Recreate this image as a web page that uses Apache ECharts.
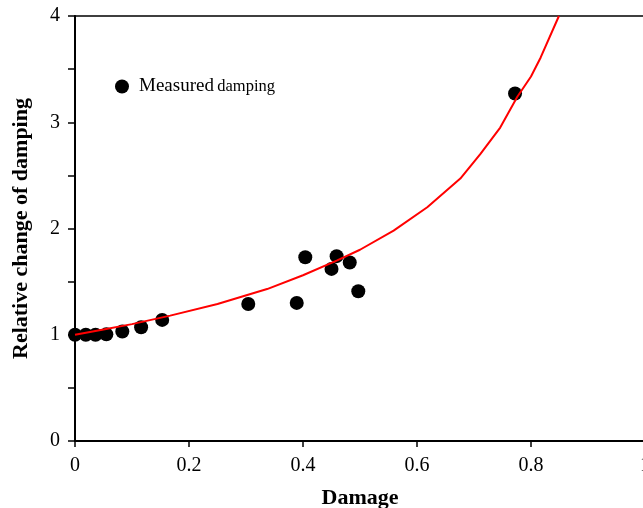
<!DOCTYPE html>
<html>
<head>
<meta charset="utf-8">
<script src="https://cdn.jsdelivr.net/npm/echarts@6/dist/echarts.min.js"></script>
<style>html,body{margin:0;padding:0;background:#fff}#c{width:643px;height:508px}</style>
</head>
<body>
<div id="c"></div>
<script>
// Measured damping (damage, relative change of damping)
const measuredDamage = [0, 0.019, 0.036, 0.055, 0.083, 0.116, 0.153, 0.304, 0.389, 0.404, 0.450, 0.459, 0.482, 0.497, 0.772];
const measuredDamping = [1.0, 1.0, 1.0, 1.004, 1.03, 1.07, 1.14, 1.29, 1.30, 1.73, 1.62, 1.74, 1.68, 1.41, 3.27];
// Fitted curve
const curveDamage = [0, 0.05, 0.1, 0.167, 0.25, 0.337, 0.40, 0.46, 0.50, 0.559, 0.618, 0.676, 0.711, 0.746, 0.776, 0.800, 0.817, 0.849];
const curveDamping = [1.0, 1.05, 1.10, 1.18, 1.29, 1.43, 1.56, 1.70, 1.80, 1.98, 2.20, 2.47, 2.70, 2.95, 3.24, 3.43, 3.61, 4.0];
const xTicks = ['0', '0.2', '0.4', '0.6', '0.8', '1'];
const yTicks = ['0', '1', '2', '3', '4'];

const serif = '"Liberation Serif", "DejaVu Serif", serif';
const chart = echarts.init(document.getElementById('c'), null, {renderer: 'canvas'});
chart.setOption({
  animation: false,
  backgroundColor: '#fff',
  grid: {left: 75, right: -2, top: 16, bottom: 67, show: true, borderColor: '#000', borderWidth: 1.5,
    containLabel: false, outerBoundsMode: 'none'},
  legend: {
    data: ['Measured damping'],
    left: 110, top: 72,
    icon: 'circle', itemWidth: 14, itemHeight: 14,
    formatter: () => '{a|Measured} {b|damping}',
    textStyle: {
      padding: [0, 0, 0, 5],
      rich: {
        a: {fontFamily: serif, fontSize: 19, color: '#000'},
        b: {fontFamily: serif, fontSize: 16.5, color: '#000'}
      }
    }
  },
  xAxis: {
    type: 'value', min: 0, max: 1, interval: 0.2,
    name: 'Damage', nameLocation: 'middle', nameGap: 46,
    nameTextStyle: {fontFamily: serif, fontSize: 22, fontWeight: 'bold', color: '#000'},
    axisLine: {lineStyle: {color: '#000', width: 2}},
    axisTick: {show: true, inside: false, length: 6, lineStyle: {color: '#000', width: 1.5}},
    axisLabel: {margin: 15, fontFamily: serif, fontSize: 20, color: '#000',
      formatter: v => xTicks[Math.round(v / 0.2)]},
    splitLine: {show: false}
  },
  yAxis: {
    type: 'value', min: 0, max: 4, interval: 1,
    name: 'Relative change of damping', nameLocation: 'middle', nameGap: 43,
    nameTextStyle: {fontFamily: serif, fontSize: 22, fontWeight: 'bold', color: '#000'},
    axisLine: {show: true, lineStyle: {color: '#000', width: 2}},
    axisTick: {show: true, inside: false, length: 7, lineStyle: {color: '#000', width: 1.5}},
    minorTick: {show: true, splitNumber: 2, length: 7, lineStyle: {color: '#000', width: 1.5}},
    axisLabel: {margin: 15, fontFamily: serif, fontSize: 20, color: '#000',
      formatter: v => yTicks[Math.round(v)]},
    splitLine: {show: false}
  },
  series: [
    {
      name: 'Measured damping', type: 'scatter', symbol: 'circle', symbolSize: 14,
      itemStyle: {color: '#000', opacity: 1}, z: 2,
      data: measuredDamage.map((d, i) => [d, measuredDamping[i]])
    },
    {
      name: 'Fit', type: 'line', showSymbol: false, symbol: 'none', smooth: false,
      lineStyle: {color: '#ff0000', width: 2}, z: 3, clip: true,
      data: curveDamage.map((d, i) => [d, curveDamping[i]])
    }
  ]
});
</script>
</body>
</html>
